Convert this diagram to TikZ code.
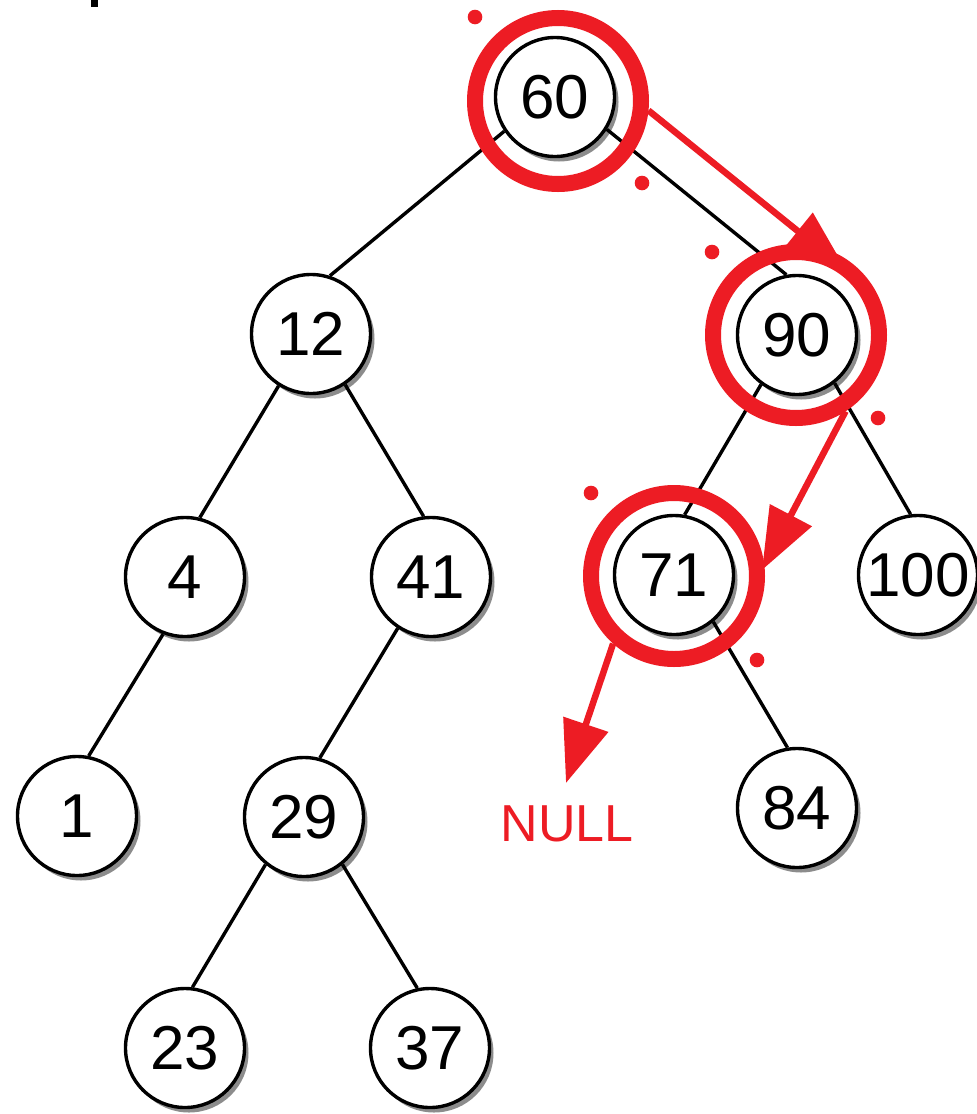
\documentclass[tikz,border=0pt]{standalone}
\usepackage{fontspec}
\setmainfont{Liberation Sans}
\usetikzlibrary{arrows.meta,shadows}
\definecolor{hred}{HTML}{ED1C24}
\begin{document}
\begin{tikzpicture}[x=1pt,y=-1pt,
  tnode/.style={circle,draw=black,line width=3.4pt,fill=white,minimum size=119pt,inner sep=0pt,
    font=\fontsize{62}{70}\selectfont,
    drop shadow={shadow xshift=4pt,shadow yshift=-5pt,fill=black,opacity=0.45}},
  edge/.style={line width=3.4pt,black},
  redring/.style={circle,draw=hred,line width=16pt,minimum size=166pt,inner sep=0pt},
  redarrow/.style={draw=hred,line width=6.5pt,-{Triangle[length=62pt,width=46pt]},color=hred},
  reddot/.style={fill=hred}]
\useasboundingbox (0,0) rectangle (977,1114);
\fill[white] (0,0) rectangle (977,1114);
\fill[black] (90.5,0) rectangle (97.5,7);
% tree nodes
\node[tnode] (n60) at (555,97) {60};
\node[tnode] (n12) at (311,334) {12};
\node[tnode] (n90) at (797,335) {90};
\node[tnode] (n4) at (185,577) {4};
\node[tnode] (n41) at (431,577) {41};
\node[tnode] (n71) at (674,575) {71};
\node[tnode] (n100) at (918,575) {100};
\node[tnode] (n1) at (77,816) {1};
\node[tnode] (n29) at (304,817) {29};
\node[tnode] (n84) at (797,808) {84};
\node[tnode] (n23) at (185,1048) {23};
\node[tnode] (n37) at (430,1048) {37};
% edges
\draw[edge] (n60.-146) -- (n12.72);
\draw[edge] (n60.-32) -- (n90.100);
\draw[edge] (n12.-122) -- (n4.76);
\draw[edge] (n12.-56) -- (n41.97);
\draw[edge] (n4.-111) -- (n1.79);
\draw[edge] (n41.-123) -- (n29.75);
\draw[edge] (n29.-129) -- (n23.83);
\draw[edge] (n29.-51) -- (n37.102);
\draw[edge] (n90.-126) -- (n71.80);
\draw[edge] (n90.-52) -- (n100.97);
\draw[edge] (n71.-50) -- (n84.99);
% red rings
\node[redring] (r60) at (558,101) {};
\node[redring] (r90) at (796,335) {};
\node[redring] (r71) at (674,576) {};
% arrows
\coordinate (t1) at (846,270);
\coordinate (t2) at (762,570);
\coordinate (t3) at (566,783);
\draw[redarrow] (r60.-6) -- (t1);
\draw[redarrow] (r90.-57) -- (t2);
\draw[redarrow] (r71.-132) -- (t3);
\node[text=hred,font=\fontsize{52}{60}\selectfont] (null) at (567,824) {NULL};
% dots
\fill[reddot] (475,17) circle (7.3);
\fill[reddot] (642,183) circle (7.3);
\fill[reddot] (712,252) circle (7.3);
\fill[reddot] (878,418) circle (7.3);
\fill[reddot] (591,493) circle (7.3);
\fill[reddot] (757,660) circle (7.3);
\end{tikzpicture}
\end{document}
